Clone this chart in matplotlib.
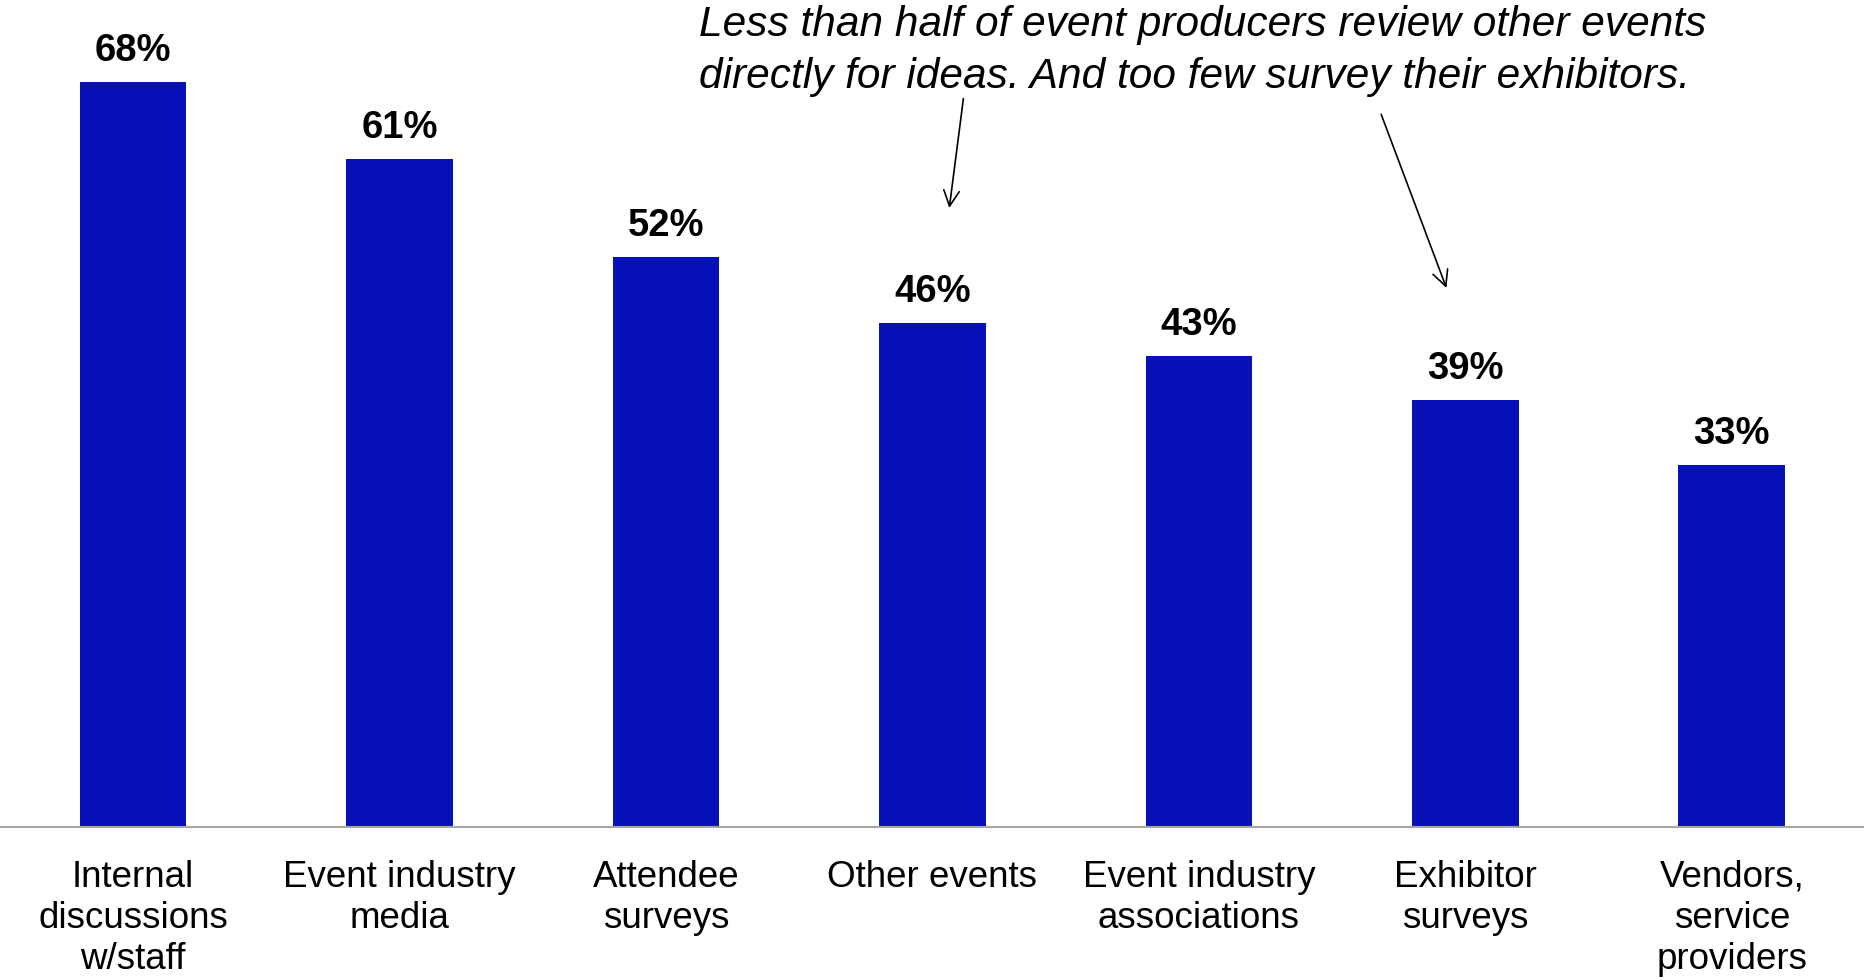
import matplotlib
matplotlib.use("Agg")
import matplotlib.pyplot as plt

plt.rcParams['font.family'] = ['Liberation Sans', 'DejaVu Sans']

categories = [
    "Internal\ndiscussions\nw/staff",
    "Event industry\nmedia",
    "Attendee\nsurveys",
    "Other events",
    "Event industry\nassociations",
    "Exhibitor\nsurveys",
    "Vendors,\nservice\nproviders",
]
values = [68, 61, 52, 46, 43, 39, 33]
value_labels = ["68%", "61%", "52%", "46%", "43%", "39%", "33%"]

note = ("Less than half of event producers review other events\n"
        "directly for ideas. And too few survey their exhibitors.")

bar_color = "#0810B8"

fig = plt.figure(figsize=(18.65, 9.8), dpi=100)
ax = fig.add_axes([0, 0.1565, 1, 0.8435])

x = list(range(len(categories)))
ax.bar(x, values, width=0.40, color=bar_color, zorder=2)

for xi, v, lab in zip(x, values, value_labels):
    ax.annotate(lab, xy=(xi, v), xytext=(0, 22.3), textcoords="offset points",
                ha="center", va="center", fontsize=27.5, fontweight="bold",
                color="black")

ax.set_xlim(-0.5, len(categories) - 0.5)
ax.set_ylim(0, 75.5)

ax.set_xticks(x)
ax.set_xticklabels(categories, fontsize=26.5)
for t in ax.get_xticklabels():
    t.set_linespacing(1.22)
    t.set_multialignment("center")
ax.tick_params(axis="x", length=0, pad=24)
ax.set_yticks([])

for side in ["top", "left", "right"]:
    ax.spines[side].set_visible(False)
ax.spines["bottom"].set_color("#A6A6A6")
ax.spines["bottom"].set_linewidth(1.5)

# Callout text with two arrows
ax.text(2.124, 70.82, note, ha="left", va="center", fontsize=30.5,
        style="italic", linespacing=1.39, color="black")

arrow_style = dict(arrowstyle="->", color="black", lw=1.2,
                   mutation_scale=28, shrinkA=0, shrinkB=0)
ax.annotate("", xy=(3.063, 56.5), xytext=(3.116, 66.5), arrowprops=arrow_style)
ax.annotate("", xy=(4.929, 49.2), xytext=(4.684, 65.06), arrowprops=arrow_style)

fig.savefig("out.png", dpi=100, facecolor="white")
